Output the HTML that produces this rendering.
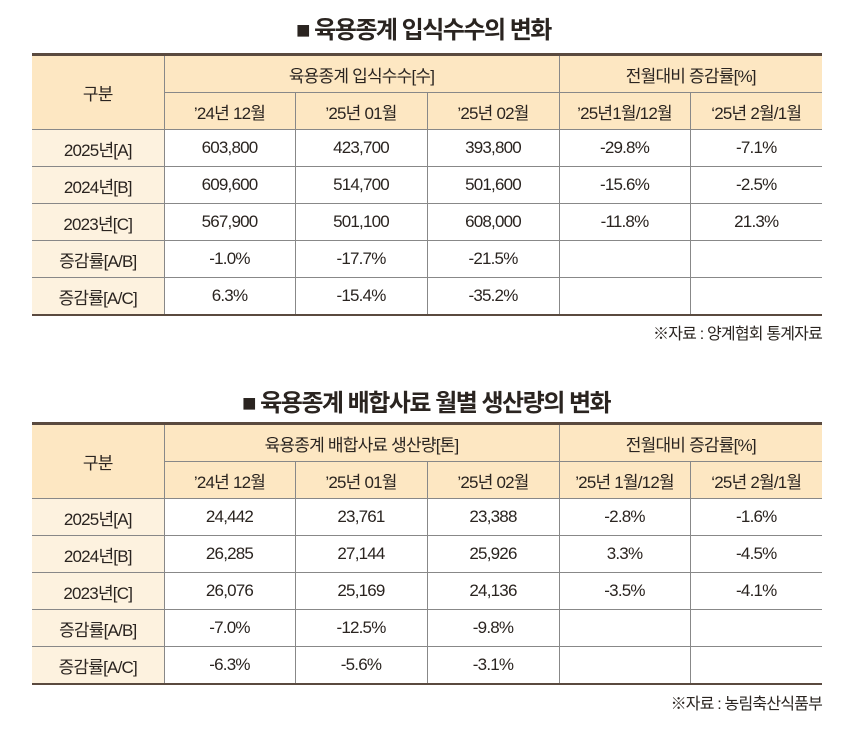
<!DOCTYPE html>
<html><head><meta charset="utf-8"><style>
body{margin:0;width:850px;height:734px;background:#fff;position:relative;font-family:"Liberation Sans","Noto Sans CJK KR",sans-serif;color:#2a2420;overflow:hidden}
.title{position:absolute;font-weight:bold;font-size:24px;letter-spacing:-1.5px;line-height:30px;white-space:nowrap}
table{position:absolute;left:32px;width:790px;border-collapse:collapse;table-layout:fixed;border-top:3px solid #5a4a3f;border-bottom:2px solid #5a4a3f}
td{border:1px solid #888;text-align:center;font-size:17px;letter-spacing:-0.8px;padding:0;height:36px;white-space:nowrap}
tr td:first-child{border-left:none}
tr td:last-child{border-right:none}
.h{background:#fde7c2}
.f{background:#fdf2df}
.src{position:absolute;right:28px;font-size:16px;letter-spacing:-0.8px}
</style></head><body>
<div class="title" style="left:296px;top:16px">■ 육용종계 입식수수의 변화</div>
<table style="top:53px">
<colgroup><col style="width:132px"><col style="width:131px"><col style="width:132px"><col style="width:132px"><col style="width:131px"><col style="width:132px"></colgroup>
<tr><td class="h" rowspan="2">구분</td><td class="h" colspan="3">육용종계 입식수수[수]</td><td class="h" colspan="2">전월대비 증감률[%]</td></tr>
<tr><td class="h">’24년 12월</td><td class="h">’25년 01월</td><td class="h">’25년 02월</td><td class="h">’25년1월/12월</td><td class="h">‘25년 2월/1월</td></tr>
<tr><td class="f">2025년[A]</td><td>603,800</td><td>423,700</td><td>393,800</td><td>-29.8%</td><td>-7.1%</td></tr>
<tr><td class="f">2024년[B]</td><td>609,600</td><td>514,700</td><td>501,600</td><td>-15.6%</td><td>-2.5%</td></tr>
<tr><td class="f">2023년[C]</td><td>567,900</td><td>501,100</td><td>608,000</td><td>-11.8%</td><td>21.3%</td></tr>
<tr><td class="f">증감률[A/B]</td><td>-1.0%</td><td>-17.7%</td><td>-21.5%</td><td></td><td></td></tr>
<tr><td class="f">증감률[A/C]</td><td>6.3%</td><td>-15.4%</td><td>-35.2%</td><td></td><td></td></tr>
</table>
<div class="src" style="top:320px">※자료 : 양계협회 통계자료</div>

<div class="title" style="left:242px;top:389px">■ 육용종계 배합사료 월별 생산량의 변화</div>
<table style="top:422px">
<colgroup><col style="width:132px"><col style="width:131px"><col style="width:132px"><col style="width:132px"><col style="width:131px"><col style="width:132px"></colgroup>
<tr><td class="h" rowspan="2">구분</td><td class="h" colspan="3">육용종계 배합사료 생산량[톤]</td><td class="h" colspan="2">전월대비 증감률[%]</td></tr>
<tr><td class="h">’24년 12월</td><td class="h">’25년 01월</td><td class="h">’25년 02월</td><td class="h">’25년 1월/12월</td><td class="h">‘25년 2월/1월</td></tr>
<tr><td class="f">2025년[A]</td><td>24,442</td><td>23,761</td><td>23,388</td><td>-2.8%</td><td>-1.6%</td></tr>
<tr><td class="f">2024년[B]</td><td>26,285</td><td>27,144</td><td>25,926</td><td>3.3%</td><td>-4.5%</td></tr>
<tr><td class="f">2023년[C]</td><td>26,076</td><td>25,169</td><td>24,136</td><td>-3.5%</td><td>-4.1%</td></tr>
<tr><td class="f">증감률[A/B]</td><td>-7.0%</td><td>-12.5%</td><td>-9.8%</td><td></td><td></td></tr>
<tr><td class="f">증감률[A/C]</td><td>-6.3%</td><td>-5.6%</td><td>-3.1%</td><td></td><td></td></tr>
</table>
<div class="src" style="top:690px">※자료 : 농림축산식품부</div>
</body></html>
